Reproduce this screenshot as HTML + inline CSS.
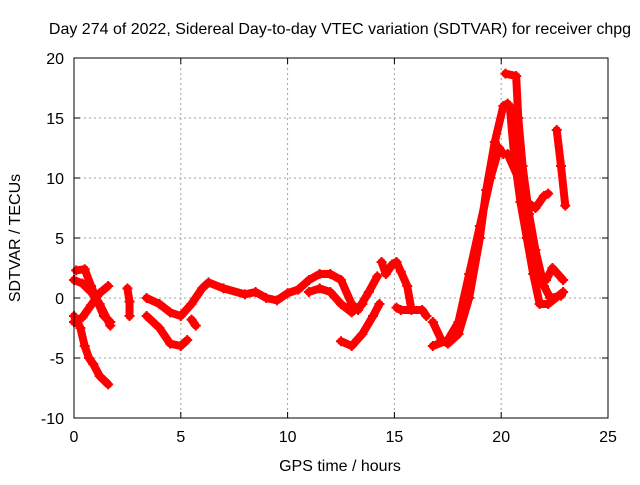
<!DOCTYPE html>
<html><head><meta charset="utf-8"><style>
body{margin:0;background:#fff;font-family:"Liberation Sans",sans-serif}
svg text{font-family:"Liberation Sans",sans-serif;font-size:16px;fill:#000}
</style></head><body>
<svg id="chart" width="640" height="480">
<text x="340" y="34" text-anchor="middle">Day 274 of 2022, Sidereal Day-to-day VTEC variation (SDTVAR) for receiver chpg</text>
<text x="340" y="471" text-anchor="middle">GPS time / hours</text>
<text transform="translate(20,238) rotate(-90)" text-anchor="middle">SDTVAR / TECUs</text>
<g id="grid"></g><g id="marks"></g><g id="axes"></g>
</svg>
<script>
const xTicks=[0,5,10,15,20,25];
const yTicks=[-10,-5,0,5,10,15,20];
const track1=[[0,-1.5],[0.3,-2.5],[0.5,-4],[0.7,-5],[0.9,-5.5],[1.2,-6.5],[1.6,-7.2]];
const track2=[[0,1.5],[0.4,1.2],[0.8,0.5],[1.2,-0.5],[1.7,-2.3]];
const track3=[[0.1,2.3],[0.5,2.4],[0.8,1],[1.1,-0.3],[1.4,-1.5],[1.7,-2]];
const track4=[[0,-2],[0.4,-1.6],[0.8,-0.6],[1.2,0.4],[1.6,1]];
const track5=[[2.5,0.8],[2.6,-0.3],[2.6,-1.5]];
const track6=[[3.4,0],[4,-0.5],[4.5,-1.2],[5,-1.5],[5.5,-0.5],[6,0.8],[6.3,1.3],[7,0.8],[8,0.3],[8.5,0.5],[9,0],[9.5,-0.2],[10,0.4],[10.5,0.7],[11,1.5],[11.5,2],[12,2],[12.5,1.5],[13,-0.5],[13.3,-1],[13.8,0.5],[14.2,1.8]];
const track7=[[3.4,-1.5],[4,-2.5],[4.5,-3.8],[5,-4],[5.3,-3.5]];
const track8=[[5.5,-1.8],[5.7,-2.3]];
const track9=[[11,0.5],[11.5,0.8],[12,0.5],[12.5,-0.5],[13,-1.2],[13.5,-0.5]];
const track10=[[12.5,-3.6],[13,-4],[13.5,-3],[14,-1.5],[14.3,-0.5]];
const track11=[[14.4,3],[14.6,2],[14.9,2.8],[15.1,3],[15.3,2.2],[15.6,1],[15.8,-1]];
const track12=[[15.1,-0.8],[15.3,-1],[16.3,-1],[16.5,-1.5]];
const track13=[[16.8,-2],[17.2,-3.5],[17.5,-3.8],[18,-3],[18.5,0],[19,5],[19.3,9],[19.7,13],[20.1,16],[20.3,16.2]];
const track14=[[16.8,-4],[17.5,-3.5],[18,-2],[18.5,2],[19,6],[19.5,10],[19.9,12.5],[20.1,12]];
const track15=[[20.2,18.7],[20.7,18.5],[20.8,15],[21,11],[21.3,7],[21.6,4],[22,1],[22.3,0],[22.8,0.2]];
const track16=[[20.4,16],[20.6,12],[20.9,8],[21.2,5],[21.5,2],[21.8,-0.5],[22.2,-0.5],[22.9,0.5]];
const track17=[[20.3,12],[20.8,10],[21.2,8],[21.6,7.5],[22,8.5],[22.2,8.7]];
const track18=[[22.6,14],[22.8,11],[23,7.7]];
const track19=[[22.1,1.5],[22.4,2.5],[22.9,1.5]];
const tracks=[track1,track2,track3,track4,track5,track6,track7,track8,track9,track10,track11,track12,track13,track14,track15,track16,track17,track18,track19];
const L=74,R=608,T=58,B=418;
const sx=v=>L+(v-0)/(25-0)*(R-L);
const sy=v=>B-(v+10)/30*(B-T);
const NS="http://www.w3.org/2000/svg";
function mk(tag,attrs,parent){const e=document.createElementNS(NS,tag);for(const k in attrs)e.setAttribute(k,attrs[k]);parent.appendChild(e);return e;}
const grid=document.getElementById('grid'),axes=document.getElementById('axes'),marks=document.getElementById('marks');
xTicks.forEach(t=>{
 if(t>0&&t<25){const g=mk('line',{x1:sx(t),x2:sx(t),y1:T,y2:B,stroke:'#a0a0a0','stroke-dasharray':'2,3'},grid);
 
 }
 const tk=mk('line',{x1:sx(t),x2:sx(t),y1:B,y2:B-6,stroke:'#000'},axes);
 
 
 mk('line',{x1:sx(t),x2:sx(t),y1:T,y2:T+6,stroke:'#000'},axes);
 const tx=mk('text',{x:sx(t),y:B+24,'text-anchor':'middle'},axes);tx.textContent=t;
 
 
});
yTicks.forEach(t=>{
 if(t>-10&&t<20){const g=mk('line',{x1:L,x2:R,y1:sy(t),y2:sy(t),stroke:'#a0a0a0','stroke-dasharray':'2,3'},grid);
 
 }
 const tk=mk('line',{x1:L,x2:L+6,y1:sy(t),y2:sy(t),stroke:'#000'},axes);
 
 
 mk('line',{x1:R,x2:R-6,y1:sy(t),y2:sy(t),stroke:'#000'},axes);
 const tx=mk('text',{x:L-10,y:sy(t)+6,'text-anchor':'end'},axes);tx.textContent=t;
 
 
});
const frame=mk('rect',{x:L,y:T,width:R-L,height:B-T,fill:'none',stroke:'#000'},axes);


tracks.forEach((tr,i)=>{
 const pl=mk('polyline',{points:tr.map(p=>sx(p[0])+','+sy(p[1])).join(' '),fill:'none',stroke:'#ff0000','stroke-width':8,'stroke-linejoin':'round','stroke-linecap':'round'},marks);
 
 
 tr.forEach(p=>{const x=sx(p[0]),y=sy(p[1]);
  const m=mk('path',{d:`M${x-5},${y}H${x+5}M${x},${y-5}V${y+5}`,stroke:'#ff0000','stroke-width':2},marks);
  
  
 });
});
</script>
</body></html>
